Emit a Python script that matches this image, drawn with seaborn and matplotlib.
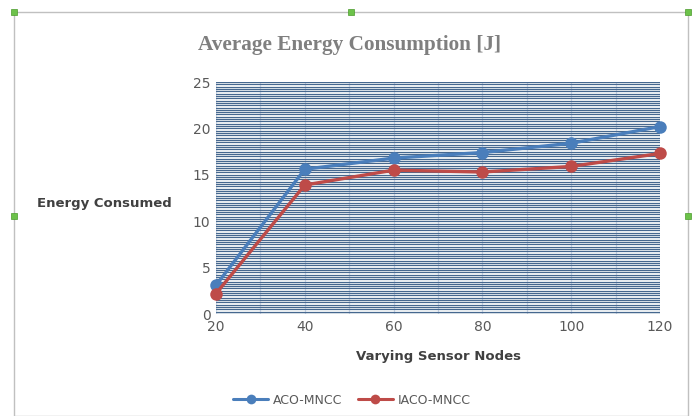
import numpy as np
import pandas as pd
import matplotlib
matplotlib.use("Agg")
import matplotlib.pyplot as plt
import seaborn as sns
from matplotlib.ticker import MultipleLocator
from matplotlib.patches import Rectangle
from matplotlib.lines import Line2D

nodes = [20, 40, 60, 80, 100, 120]
aco = [3.1, 15.6, 16.8, 17.4, 18.4, 20.2]
iaco = [2.2, 13.9, 15.5, 15.3, 15.9, 17.3]
series_names = ["ACO-MNCC", "IACO-MNCC"]
colors = ["#4a7ebb", "#be4b48"]

df = pd.DataFrame({
    "Nodes": nodes * 2,
    "Energy": aco + iaco,
    "Series": [series_names[0]] * len(nodes) + [series_names[1]] * len(nodes),
})

sns.set_theme(style="white")
plt.rcParams['font.family'] = ['DejaVu Sans']

fig = plt.figure(figsize=(6.96, 4.16), dpi=100)
ax = fig.add_axes([216/696, (416-314)/416, (660-216)/696, (314-82)/416])

sns.lineplot(data=df, x="Nodes", y="Energy", hue="Series", palette=colors,
             marker="o", markersize=9, markeredgewidth=0, markeredgecolor="none",
             linewidth=2.4, ax=ax, legend=False, zorder=5, clip_on=False)

ax.set_xlim(20, 120)
ax.set_ylim(0, 25)
ax.set_xticks([20, 40, 60, 80, 100, 120])
ax.set_yticks([0, 5, 10, 15, 20, 25])
ax.yaxis.set_minor_locator(MultipleLocator(0.25))
ax.xaxis.set_minor_locator(MultipleLocator(10))
ax.grid(True, which="both", axis="y", color="#46688f", linewidth=0.9)
ax.grid(True, which="both", axis="x", color="#cdd8e6", linewidth=0.9)
ax.set_axisbelow(True)
for s in ax.spines.values():
    s.set_visible(False)
ax.tick_params(axis="both", which="both", length=0, colors="#595959", labelsize=10, pad=4)
ax.set_xlabel("Varying Sensor Nodes", fontsize=9.5, fontweight="bold", color="#404040", labelpad=12)
ax.set_ylabel("")
fig.text(37/696, 1 - 204/416, "Energy Consumed", fontsize=9.5, fontweight="bold",
         color="#404040", ha="left", va="center")
fig.text(350/696, 1 - 45/416, "Average Energy Consumption [J]", fontsize=15.3,
         fontweight="bold", color="#7f7f7f", ha="center", va="center",
         family=["Liberation Serif", "DejaVu Serif"])

handles = [Line2D([0], [0], color=c, marker="o", markersize=7, linewidth=2.2,
                  markeredgewidth=0) for c in colors]
fig.legend(handles, series_names, loc="center", bbox_to_anchor=(352/696, 1 - 400/416),
           ncol=2, frameon=False, fontsize=9, handlelength=2.8, columnspacing=1.2,
           handletextpad=0.4, labelcolor="#595959")

# outer chart frame
fig.add_artist(Rectangle((14/696, 0), (688-14)/696, (416-12)/416, transform=fig.transFigure,
                         fill=False, edgecolor="#c0c0c0", linewidth=1))
for (px, py) in [(14, 12), (351, 12), (688, 12), (14, 216), (688, 216)]:
    fig.add_artist(Rectangle(((px-3)/696, 1-(py+3)/416), 6/696, 6/416,
                             transform=fig.transFigure, facecolor="#6cc24a",
                             edgecolor="#4a9a2a", linewidth=0.5))

fig.savefig("out.png", dpi=100)
